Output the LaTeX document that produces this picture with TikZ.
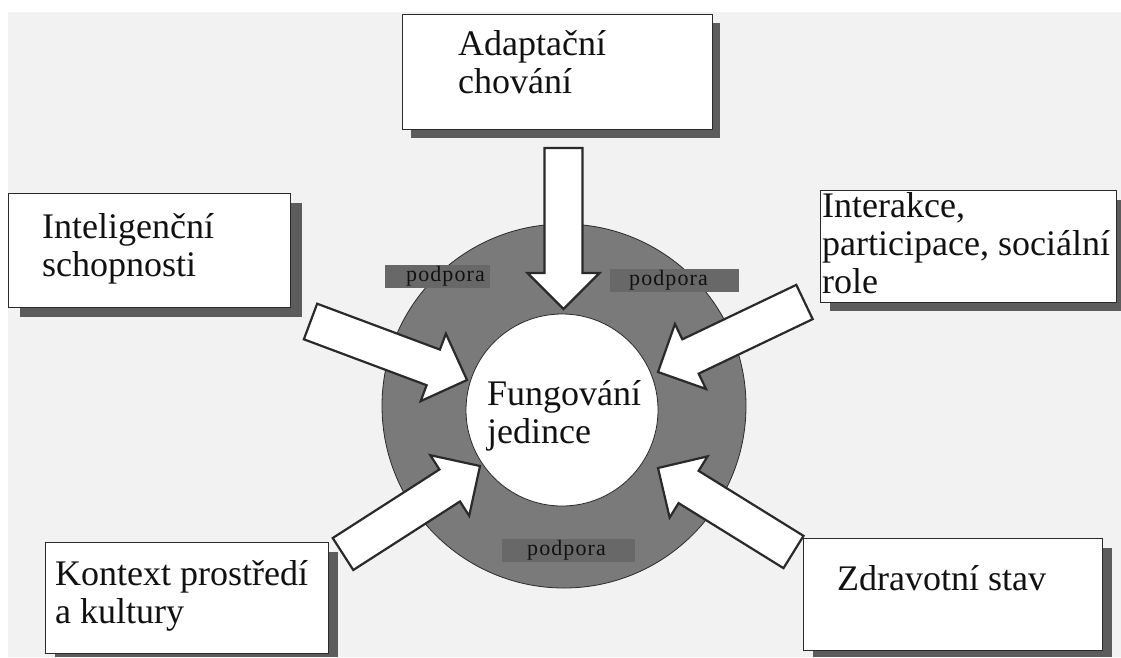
\documentclass[tikz,border=0pt]{standalone}
\usepackage{fontspec}
\setmainfont{Liberation Serif}
\newfontfamily\podfont[LetterSpace=5]{Liberation Serif}
\usetikzlibrary{calc}
\definecolor{bgc}{HTML}{F2F2F2}
\definecolor{ringc}{HTML}{7A7A7A}
\definecolor{podc}{HTML}{686868}
\definecolor{shadc}{HTML}{5C5C5C}
\definecolor{linec}{HTML}{2A2A2A}
\definecolor{txtc}{HTML}{111111}
\newcommand\blockarrow[2]{%
  \coordinate (#1-h) at ($(#2)!36pt!(#1)$);
  \draw[barrow] ($(#1)!19pt!90:(#2)$) -- ($(#1-h)!19pt!90:(#2)$) -- ($(#1-h)!36pt!90:(#2)$) -- (#2)
    -- ($(#1-h)!36pt!-90:(#2)$) -- ($(#1-h)!19pt!-90:(#2)$) -- ($(#1)!19pt!-90:(#2)$) -- cycle;
}
\begin{document}
\begin{tikzpicture}[x=1pt,y=-1pt,
  boxstyle/.style={draw=linec, line width=1.2pt, fill=white, rectangle, inner sep=0pt, anchor=north west},
  shadowstyle/.style={fill=shadc, draw=none},
  labeltext/.style={anchor=north west, inner sep=0pt, align=left, text=txtc,
    font=\fontsize{36}{38}\selectfont},
  podbox/.style={fill=podc, draw=none, rectangle, inner sep=0pt, anchor=north west},
  podtext/.style={anchor=base west, inner sep=0pt, text=txtc, font=\podfont\fontsize{22}{24}\selectfont},
  barrow/.style={draw=linec, line width=2.2pt, fill=white, line join=miter},
]
\useasboundingbox (0,0) rectangle (1121,657);
\fill[white] (0,0) rectangle (1121,657);
\fill[bgc] (8,12) rectangle (1121,657);

% ring and centre
\node[circle, fill=ringc, draw=linec, line width=0.8pt, minimum size=364pt, inner sep=0pt] (ring) at (564,406) {};
\node[circle, fill=white, draw=linec, line width=0.8pt, minimum size=192pt, inner sep=0pt] (core) at (562,410) {};
\node[labeltext] (coretext) at (487,{405-26.6}) {\strut Fungování\\jedince};

% podpora labels
\node[podbox, minimum width=105pt, minimum height=23pt] (pod1) at (385,265) {};
\node[podtext] (pod1t) at (406,281) {podpora};
\node[podbox, minimum width=129pt, minimum height=23pt] (pod2) at (610,269) {};
\node[podtext] (pod2t) at (629,285) {podpora};
\node[podbox, minimum width=133pt, minimum height=23pt] (pod3) at (502,539) {};
\node[podtext] (pod3t) at (527,555) {podpora};

% boxes with shadows
\fill[shadowstyle] (411,23) rectangle (720,138);
\node[boxstyle, minimum width=310pt, minimum height=115pt] (adapt) at (402,14) {};
\node[labeltext] (adaptt) at (458,{55-26.6}) {\strut Adaptační\\chování};

\fill[shadowstyle] (20,203) rectangle (302,317);
\node[boxstyle, minimum width=282pt, minimum height=114pt] (intel) at (8,193) {};
\node[labeltext] (intelt) at (42,{238-26.6}) {\strut Inteligenční\\schopnosti};

\fill[shadowstyle] (830,200) rectangle (1121,311);
\node[boxstyle, minimum width=296pt, minimum height=112pt] (inter) at (820,190) {};
\node[labeltext] (intert) at (822,{217-26.6}) {\strut Interakce,\\participace, sociální\\role};

\fill[shadowstyle] (55,552) rectangle (338,657);
\node[boxstyle, minimum width=283pt, minimum height=111pt] (kont) at (45,542) {};
\node[labeltext] (kontt) at (55,{585-26.6}) {\strut Kontext prostředí\\a kultury};

\fill[shadowstyle] (813,548) rectangle (1112,657);
\node[boxstyle, minimum width=299pt, minimum height=112pt] (zdrav) at (803,538) {};
\node[labeltext] (zdravt) at (837,{590-26.6}) {\strut Zdravotní stav};

% block arrows
\coordinate (aT) at (563.5,148);  \coordinate (aP) at (563.5,309);
\coordinate (bT) at (310.5,321.5); \coordinate (bP) at (467,380);
\coordinate (cT) at (804.5,302);   \coordinate (cP) at (658,372);
\coordinate (dT) at (343,554);     \coordinate (dP) at (480,466);
\coordinate (eT) at (793.5,552);   \coordinate (eP) at (658,468);
\blockarrow{aT}{aP}
\blockarrow{bT}{bP}
\blockarrow{cT}{cP}
\blockarrow{dT}{dP}
\blockarrow{eT}{eP}
\end{tikzpicture}
\end{document}
